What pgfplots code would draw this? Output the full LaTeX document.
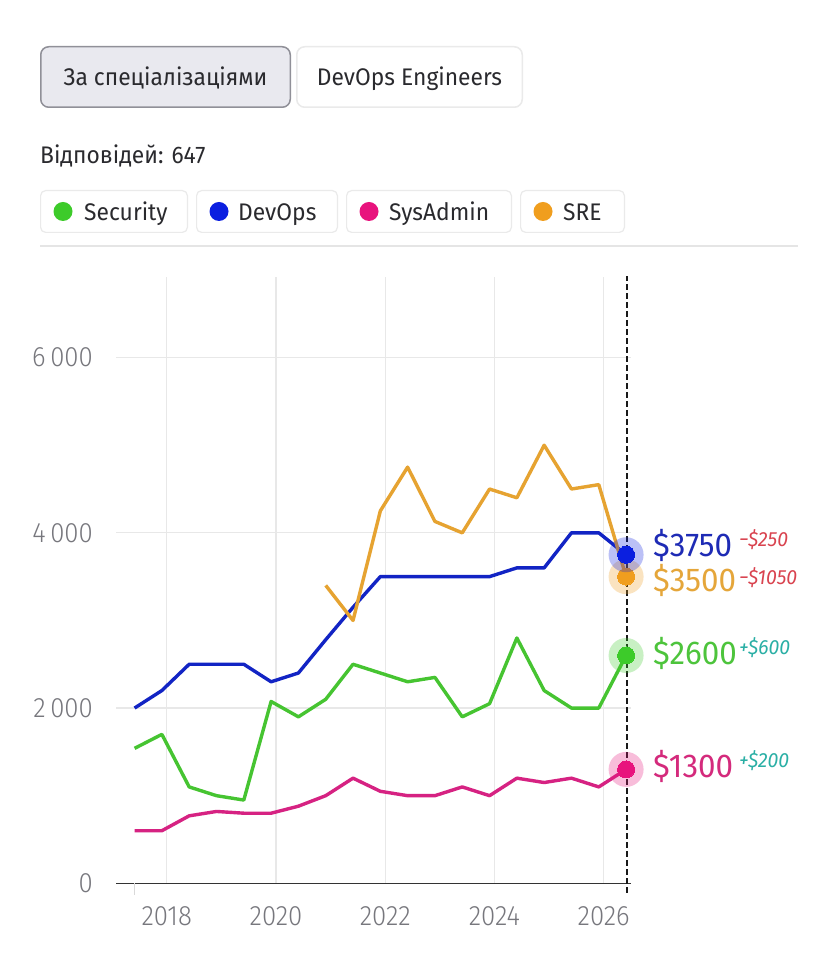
\documentclass[border=0pt]{standalone}
\usepackage{fontspec}
\setmainfont{Fira Sans}[FakeStretch=0.95]
\newfontfamily\lightf{Fira Sans}[FakeStretch=0.92, UprightFont={* Light}, ItalicFont={* Light Italic}]
\usepackage{pgfplots}
\pgfplotsset{compat=1.18}
\definecolor{cSec}{HTML}{3DCB2A}
\definecolor{cSecL}{HTML}{46C431}
\definecolor{cDev}{HTML}{0B1FE0}
\definecolor{cDevL}{HTML}{1224C4}
\definecolor{cSys}{HTML}{E8137D}
\definecolor{cSysL}{HTML}{D62282}
\definecolor{cSre}{HTML}{F09E1E}
\definecolor{cSreL}{HTML}{E6A331}
\definecolor{tDev}{HTML}{1E2BB5}
\definecolor{tSre}{HTML}{E5A63A}
\definecolor{tSec}{HTML}{4DC43C}
\definecolor{tSys}{HTML}{D42A7C}
\definecolor{neg}{HTML}{D9434F}
\definecolor{pos}{HTML}{2AAFA5}
\definecolor{tick}{HTML}{77777D}
\definecolor{txt}{HTML}{2A2A2E}
\definecolor{btn}{HTML}{E9E9EF}
\definecolor{btnB}{HTML}{909098}
\definecolor{chipB}{HTML}{EAEAEA}

\pgfplotstableread{
x       sec   dev   sys
2017.41 1540  2000  600
2017.91 1700  2200  600
2018.41 1100  2500  770
2018.91 1000  2500  820
2019.41 950   2500  800
2019.91 2075  2300  800
2020.41 1900  2400  880
2020.91 2100  2780  1000
2021.41 2500  3150  1200
2021.91 2400  3500  1050
2022.41 2300  3500  1000
2022.91 2350  3500  1000
2023.41 1900  3500  1100
2023.91 2050  3500  1000
2024.41 2800  3600  1200
2024.91 2200  3600  1150
2025.41 2000  4000  1200
2025.91 2000  4000  1100
2026.41 2600  3750  1300
}\maintable

\pgfplotstableread{
x       sre
2020.91 3400
2021.41 3000
2021.91 4250
2022.41 4750
2022.91 4130
2023.41 4000
2023.91 4500
2024.41 4400
2024.91 5000
2025.41 4500
2025.91 4550
2026.41 3500
}\sretable

\pgfplotsset{
  halo/.style={only marks, mark=*, mark size=17.5pt, color=#1, mark options={draw opacity=0, fill=#1, fill opacity=0.28}},
  dot/.style={only marks, mark=*, mark size=8.5pt, color=#1, mark options={draw=#1, fill=#1, line width=0pt}},
}

\begin{document}
\begin{tikzpicture}[x=1pt,y=1pt]
\fill[white] (0,0) rectangle (828,964);
\path[use as bounding box] (0,0) rectangle (828,964);

% buttons
\draw[fill=btn, draw=btnB, line width=1.5pt, rounded corners=8pt] (40.75,856.75) rectangle (290.25,917.25);
\node[anchor=base, inner sep=0pt, text=txt, font=\fontsize{24}{24}\selectfont] at (165.5,878.5) {За спеціалізаціями};
\draw[fill=white, draw=chipB, line width=1.5pt, rounded corners=8pt] (296.75,856.75) rectangle (522.25,917.25);
\node[anchor=base, inner sep=0pt, text=txt, font=\fontsize{24}{24}\selectfont] at (409.5,878.5) {DevOps Engineers};

\node[anchor=base west, inner sep=0pt, text=txt, font=\fontsize{24}{24}\selectfont] at (40,800.7) {Відповідей: 647};

% legend chips
\begin{scope}[rounded corners=5pt]
\draw[fill=white, draw=chipB, line width=1.2pt] (40.6,731.6) rectangle (187.4,773.4);
\draw[fill=white, draw=chipB, line width=1.2pt] (196.6,731.6) rectangle (337.4,773.4);
\draw[fill=white, draw=chipB, line width=1.2pt] (346.6,731.6) rectangle (511.4,773.4);
\draw[fill=white, draw=chipB, line width=1.2pt] (520.6,731.6) rectangle (624.4,773.4);
\end{scope}
\fill[cSec] (63,752.5) circle (9.5);
\fill[cDev] (219,752.5) circle (9.5);
\fill[cSys] (369,752.5) circle (9.5);
\fill[cSre] (543,752.5) circle (9.5);
\begin{scope}[every node/.style={anchor=base west, inner sep=0pt, text=txt, font=\fontsize{24}{24}\selectfont}]
\node at (84,743.3) {Security};
\node at (238,743.3) {DevOps};
\node at (389,743.3) {SysAdmin};
\node at (563,743.3) {SRE};
\end{scope}
\draw[black!10, line width=2pt] (40,718) -- (798,718);

\begin{axis}[
  at={(116pt,80.7pt)}, anchor=south west, scale only axis,
  width=515pt, height=606.3pt,
  xmin=2017.07, xmax=2026.5, ymin=0, ymax=6920,
  axis x line*=bottom, axis y line*=left,
  y axis line style={draw=none},
  x axis line style={draw=black!80, line width=1.5pt, -},
  xtick={2018,2020,2022,2024,2026},
  xticklabels={2018,2020,2022,2024,2026},
  ytick={0,2000,4000,6000},
  yticklabels={0,2\,000,4\,000,6\,000},
  major tick length=0pt,
  grid=major,
  major grid style={draw=black!9, line width=1.2pt},
  xticklabel style={font=\lightf\fontsize{28}{28}\selectfont, text=tick, anchor=north, inner sep=0pt, yshift=-23pt},
  yticklabel style={font=\lightf\fontsize{28}{28}\selectfont, text=tick, anchor=east, inner sep=0pt, xshift=-23pt},
  clip=false,
]
\draw[black!15, line width=1pt] (axis cs:2017.41,0) -- ++(0pt,-12pt);
\addplot[cSecL, line width=3.4pt, line join=round, mark=none] table[x=x, y=sec] {\maintable};
\addplot[cDevL, line width=3.4pt, line join=round, mark=none] table[x=x, y=dev] {\maintable};
\addplot[cSysL, line width=3.4pt, line join=round, mark=none] table[x=x, y=sys] {\maintable};
\addplot[cSreL, line width=3.4pt, line join=round, mark=none] table[x=x, y=sre] {\sretable};
\draw[black!90, line width=2pt, dash pattern=on 6pt off 3pt] (axis cs:2026.42,-110) -- (axis cs:2026.42,6935);
% end markers with halos
\addplot[halo=cSre] coordinates {(2026.41,3500)};
\addplot[dot=cSre] coordinates {(2026.41,3500)};
\addplot[halo=cDev] coordinates {(2026.41,3750)};
\addplot[dot=cDev] coordinates {(2026.41,3750)};
\addplot[halo=cSec] coordinates {(2026.41,2600)};
\addplot[dot=cSec] coordinates {(2026.41,2600)};
\addplot[halo=cSys] coordinates {(2026.41,1300)};
\addplot[dot=cSys] coordinates {(2026.41,1300)};
\end{axis}

% end labels
\begin{scope}[every node/.style={anchor=base west, inner sep=0pt, font=\fontsize{33}{33}\selectfont}]
\node[text=tDev] at (653,407.3) {\$3750};
\node[text=tSre] at (653,372.3) {\$3500};
\node[text=tSec] at (653,299) {\$2600};
\node[text=tSys] at (653,186) {\$1300};
\end{scope}
\begin{scope}[every node/.style={anchor=base west, inner sep=0pt, font=\itshape\fontsize{20.5}{20.5}\selectfont}]
\node[text=neg] at (739,417.3) {−\$250};
\node[text=neg] at (739,379) {−\$1050};
\node[text=pos] at (739,309) {+\$600};
\node[text=pos] at (739,196) {+\$200};
\end{scope}
\end{tikzpicture}
\end{document}
